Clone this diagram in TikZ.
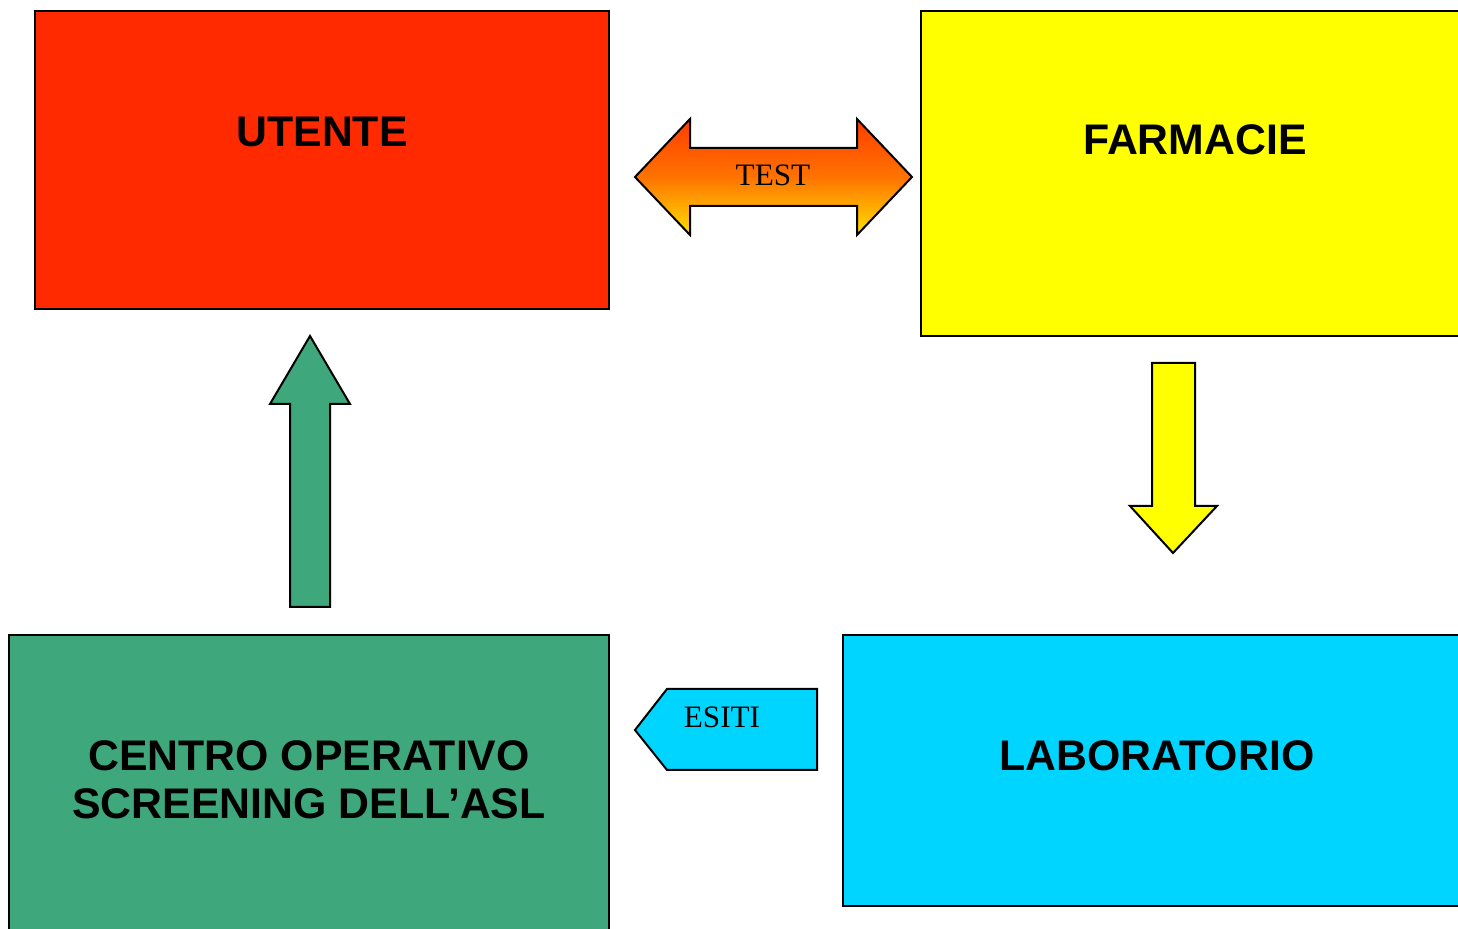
\documentclass[tikz,border=0pt]{standalone}
\usepackage{fontspec}
\setmainfont{Liberation Serif}
\setsansfont{Liberation Sans}
\definecolor{cred}{HTML}{FF2A00}
\definecolor{cyellow}{HTML}{FFFF00}
\definecolor{cgreen}{HTML}{3EA77B}
\definecolor{cblue}{HTML}{00D5FF}
\definecolor{gtop}{HTML}{FF3C00}
\definecolor{gbot}{HTML}{FFE000}
\tikzset{
  shapeline/.style={draw=black, line width=1pt, line join=miter},
  boxtext/.style={font=\sffamily\bfseries\fontsize{21.4}{24}\selectfont, align=center, inner sep=0pt, anchor=base},
  arrowtext/.style={font=\rmfamily\fontsize{15.6}{18}\selectfont, inner sep=0pt, anchor=base}
}
\begin{document}
\begin{tikzpicture}[x=0.5pt,y=-0.5pt]
\useasboundingbox (0,0) rectangle (1458,929);
% boxes
\path[shapeline, fill=cred] (35,11) rectangle (609,309);
\path[shapeline, fill=cyellow] (921,11) rectangle (1475,336);
\path[shapeline, fill=cgreen] (9,635) rectangle (609,945);
\path[shapeline, fill=cblue] (843,635) rectangle (1475,906);
% double arrow TEST
\shadedraw[line width=1pt, top color=gtop, bottom color=gbot, middle color=orange!90!red]
  (635,177) -- (690,119) -- (690,148) -- (857,148) -- (857,119) -- (912,177)
  -- (857,235) -- (857,206) -- (690,206) -- (690,235) -- cycle;
% yellow down arrow
\path[shapeline, fill=cyellow] (1152,363) -- (1195,363) -- (1195,506) -- (1217,506)
  -- (1173,553) -- (1130,506) -- (1152,506) -- cycle;
% green up arrow
\path[shapeline, fill=cgreen] (290,607) -- (290,404) -- (270,404) -- (310,336)
  -- (350,404) -- (330,404) -- (330,607) -- cycle;
% ESITI pentagon
\path[shapeline, fill=cblue] (635,730) -- (667,689) -- (817,689) -- (817,770)
  -- (667,770) -- cycle;
% texts
\node[boxtext] (utente) at (322,147) {UTENTE};
\node[boxtext] (farmacie) at (1195,155) {FARMACIE};
\node[boxtext] (centro) at (309,771) {CENTRO OPERATIVO};
\node[boxtext] (screening) at (309,819) {SCREENING DELL’ASL};
\node[boxtext] (lab) at (1157,771) {LABORATORIO};
\node[arrowtext] (test) at (773,186) {TEST};
\node[arrowtext] (esiti) at (722,728) {ESITI};
\end{tikzpicture}
\end{document}
